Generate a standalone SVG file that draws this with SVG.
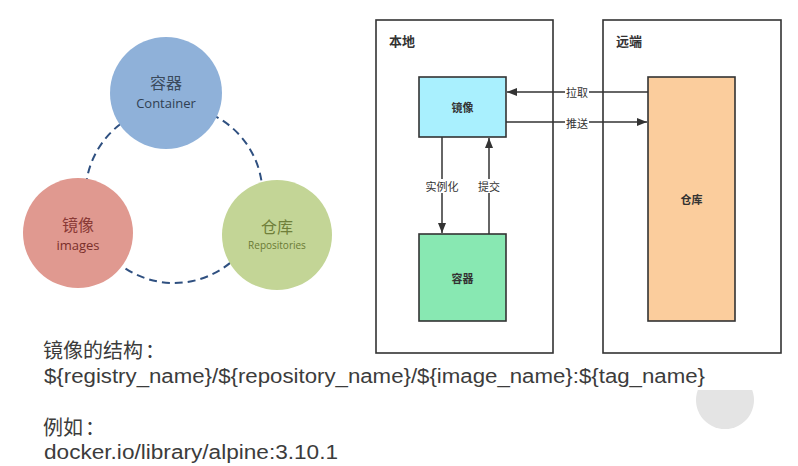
<svg xmlns="http://www.w3.org/2000/svg" width="798" height="466" viewBox="0 0 798 466">
<style>
.cn{font-family:"Noto Sans CJK SC","Noto Sans",sans-serif}
.lbl{font-family:"Noto Sans CJK SC",sans-serif;font-size:11px;fill:#333;text-anchor:middle;dominant-baseline:central}
.box{stroke:#333;stroke-width:1.6}
.frame{fill:#fff;stroke:#333;stroke-width:1.6}
.conn{stroke:#333;stroke-width:1.5;fill:none}
.bodycn{font-family:"Noto Sans CJK SC",sans-serif;fill:#3c3c3c;font-size:20px}
.body{font-family:"Liberation Sans","Open Sans",sans-serif;fill:#3c3c3c;font-size:20px}
</style>
<defs>
<marker id="ah" viewBox="0 0 10 10" refX="10" refY="5" markerWidth="10" markerHeight="10" markerUnits="userSpaceOnUse" orient="auto">
<path d="M0,1 L10,5 L0,9 Z" fill="#333"/>
</marker>
</defs>
<rect width="798" height="466" fill="#fff"/>

<!-- left concept circle -->
<g id="ring">
<circle cx="174" cy="194.5" r="88.5" fill="none" stroke="#2f5080" stroke-width="2" stroke-dasharray="8,5"/>
</g>
<g id="container-circle">
<circle cx="166" cy="93" r="56" fill="#8fb1d9"/>
<text x="166" y="89" class="cn" font-size="16" fill="#3b4a5c" text-anchor="middle">容器</text>
<text x="166" y="108" font-family="'Open Sans',sans-serif" font-size="13" fill="#2f3f52" text-anchor="middle">Container</text>
</g>
<g id="images-circle">
<circle cx="78" cy="233" r="55" fill="#e09990"/>
<text x="78" y="231" class="cn" font-size="16" fill="#8a3a36" text-anchor="middle">镜像</text>
<text x="78" y="250" font-family="'Open Sans',sans-serif" font-size="13" fill="#7a2e2a" text-anchor="middle">images</text>
</g>
<g id="repo-circle">
<circle cx="277" cy="235" r="55" fill="#c3d596"/>
<text x="277" y="233" class="cn" font-size="16" fill="#6f7f3a" text-anchor="middle">仓库</text>
<text x="277" y="249" font-family="'Open Sans',sans-serif" font-size="10" fill="#6a7a34" text-anchor="middle">Repositories</text>
</g>

<!-- right diagram -->
<g id="local">
<rect x="376" y="20" width="177" height="333" class="frame"/>
<text x="389" y="46" class="cn" font-size="13" font-weight="bold" fill="#333">本地</text>
</g>
<g id="remote">
<rect x="603" y="20" width="178" height="333" class="frame"/>
<text x="616" y="46" class="cn" font-size="13" font-weight="bold" fill="#333">远端</text>
</g>
<g id="image-box">
<rect x="419" y="77" width="87" height="60" fill="#a9f0fe" class="box"/>
<text x="462.5" y="107" class="lbl" font-weight="bold">镜像</text>
</g>
<g id="container-box">
<rect x="419" y="234" width="87" height="87" fill="#88e8b2" class="box"/>
<text x="462.5" y="278" class="lbl" font-weight="bold">容器</text>
</g>
<g id="repo-box">
<rect x="648" y="77" width="87" height="244" fill="#fbcd9d" class="box"/>
<text x="691.5" y="199" class="lbl" font-weight="bold">仓库</text>
</g>

<g id="connectors">
<line x1="442" y1="137" x2="442" y2="233" class="conn" marker-end="url(#ah)"/>
<line x1="489" y1="234" x2="489" y2="138" class="conn" marker-end="url(#ah)"/>
<line x1="648" y1="92" x2="507" y2="92" class="conn" marker-end="url(#ah)"/>
<line x1="506" y1="122" x2="647" y2="122" class="conn" marker-end="url(#ah)"/>
<rect x="423" y="179" width="38" height="14" fill="#fff"/>
<text x="442" y="186" class="lbl">实例化</text>
<rect x="477" y="179" width="24" height="14" fill="#fff"/>
<text x="489" y="186" class="lbl">提交</text>
<rect x="565" y="85" width="24" height="14" fill="#fff"/>
<text x="577" y="92" class="lbl">拉取</text>
<rect x="565" y="115" width="24" height="14" fill="#fff"/>
<text x="577" y="122.5" class="lbl">推送</text>
</g>

<!-- bottom text -->
<text class="bodycn" x="43" y="358">镜像的结构<tspan x="145">：</tspan></text>
<text class="body" x="44" y="383" textLength="661" lengthAdjust="spacingAndGlyphs">${registry_name}/${repository_name}/${image_name}:${tag_name}</text>
<text class="bodycn" x="43" y="435">例如<tspan x="85">：</tspan></text>
<text class="body" x="44" y="459" textLength="294" lengthAdjust="spacingAndGlyphs">docker.io/library/alpine:3.10.1</text>

<path d="M697.8,390 H752.2 A29,29 0 1 1 697.8,390 Z" fill="#e4e4e4"/>
</svg>
